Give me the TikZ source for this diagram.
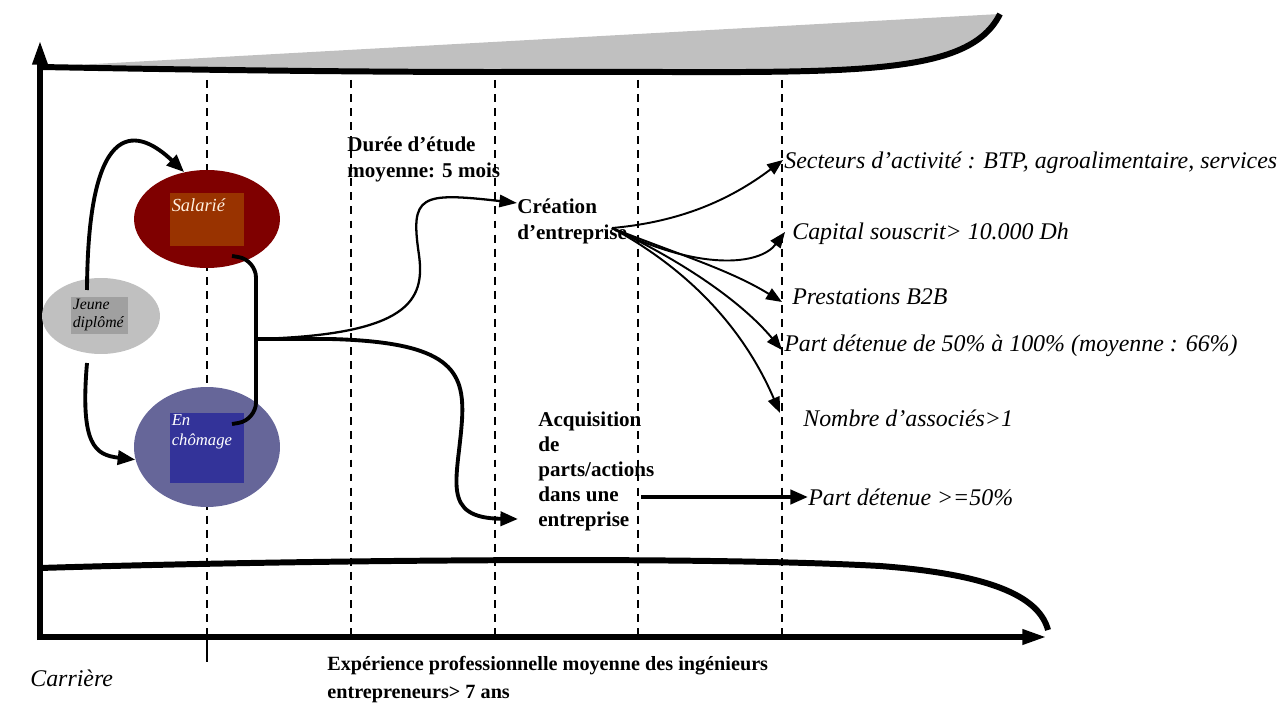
\documentclass[tikz,border=0pt]{standalone}
\usepackage{fontspec}
\setmainfont{Liberation Serif}
\usetikzlibrary{arrows.meta,shapes.geometric,calc}

\definecolor{salred}{HTML}{7F0000}
\definecolor{salbox}{HTML}{993300}
\definecolor{chomblue}{HTML}{666699}
\definecolor{chombox}{HTML}{333399}
\definecolor{jeunegray}{HTML}{C0C0C0}
\definecolor{jeunebox}{HTML}{A0A0A0}

\tikzset{
  axisline/.style={line width=3.4pt, -{Triangle[length=14pt,width=8pt]}},
  guide/.style={line width=0.8pt, dash pattern=on 4.5pt off 3.5pt},
  bigarrow/.style={line width=2.2pt, -{Triangle[length=10pt,width=8pt]}},
  thinarrow/.style={line width=1.1pt, -{Triangle[length=9pt,width=7pt]}},
  blob/.style={ellipse, inner sep=0pt},
  boxtext/.style={anchor=north west, inner sep=1pt, align=left, font=\fontsize{9.5}{11}\selectfont\itshape},
  boldlabel/.style={anchor=north west, inner sep=0pt, align=left, font=\fontsize{12}{14.6}\selectfont\bfseries},
  itlabel/.style={anchor=west, inner sep=0pt, font=\fontsize{13.6}{16}\selectfont\itshape}
}

\begin{document}
\begin{tikzpicture}[x=0.02cm, y=-0.02cm]
    \useasboundingbox (0,0) rectangle (1284,709);

    % Upper band
    \fill[jeunegray] (40,67) -- (1000,14) .. controls (965,85) and (820,70) .. (500,72)
        .. controls (300,72) and (100,68) .. (40,67) -- cycle;
    \draw[line width=3.4pt] (40,67) .. controls (100,68) and (300,72) .. (500,72)
        .. controls (820,70) and (965,85) .. (1000,14);

    % Lower band
    \draw[line width=3.4pt] (40,568) .. controls (300,560) and (700,556) .. (880,566)
        .. controls (1000,575) and (1040,600) .. (1048,630);

    % Dashed guides
    \foreach \gx in {207,351,495,638,782}
        \draw[guide] (\gx,80) -- (\gx,637);
    \draw[line width=0.8pt] (207,637) -- (207,662);

    % Axes
    \draw[axisline] (40,640) -- (40,40);
    \draw[axisline] (37,637) -- (1047,637);

    % Situations at graduation
    \node[blob, fill=jeunegray, minimum width=2.36cm, minimum height=1.52cm] (jeune) at (101,316) {};
    \node[fill=jeunebox, minimum width=1.14cm, minimum height=0.74cm, inner sep=0pt] (jeunerect) at (99.5,315.5) {};
    \node[boxtext, font=\fontsize{9}{10.5}\selectfont\itshape] at (jeunerect.north west) {Jeune\\diplômé};

    \node[blob, fill=salred, minimum width=2.92cm, minimum height=1.96cm] (salarie) at (207,219) {};
    \node[fill=salbox, minimum width=1.48cm, minimum height=1.06cm, inner sep=0pt] (salrect) at (207,219.5) {};
    \node[boxtext, font=\fontsize{10.5}{12}\selectfont\itshape, text=white!88!orange, yshift=-2pt] at (salrect.north west) {Salarié};

    \node[blob, fill=chomblue, minimum width=2.92cm, minimum height=2.4cm] (chomage) at (207,447) {};
    \node[fill=chombox, minimum width=1.48cm, minimum height=1.4cm, inner sep=0pt] (chomrect) at (207,448) {};
    \node[boxtext, text=white] at (chomrect.north west) {En\\chômage};

    % Paths from graduation
    \draw[bigarrow] (87,290) .. controls (88,110) and (140,130) .. (salarie.116);
    \draw[bigarrow] (87,363) .. controls (80,445) and (95,455) .. (chomage.190);

    % Joining bracket
    \coordinate (join) at (256,339);
    \draw[line width=2.2pt, rounded corners=10pt] (232,256) -- (256,260) -- (256,420) -- (232,424);
    \draw[line width=2.2pt] (256,339) -- (330,339);

    % Labels
    \node[boldlabel] (duree) at (347,137) {Durée d’étude\\moyenne: 5 mois};
    \node[boldlabel] (creation) at (517,199) {Création\\d’entreprise};
    \node[boldlabel, font=\fontsize{12}{14.2}\selectfont\bfseries] (acquisition) at (538,412) {Acquisition\\de\\parts/actions\\dans une\\entreprise};

    \draw[line width=1.3pt, -{Triangle[length=10pt,width=7pt]}] (join) .. controls (410,335) and (425,300) .. (419,255)
        .. controls (410,195) and (420,192) .. (creation.north west |- 0,203);
    \draw[bigarrow] (330,339) .. controls (450,342) and (465,370) .. (462,420)
        .. controls (458,480) and (440,518) .. (518,519);

    % Characteristics of created firms
    \node[itlabel] (secteurs) at (784,163) {Secteurs d’activité : BTP, agroalimentaire, services};
    \node[itlabel] (capital) at (792,234) {Capital souscrit> 10.000 Dh};
    \node[itlabel] (b2b) at (792,297) {Prestations B2B};
    \node[itlabel] (partcrea) at (784,346) {Part détenue de 50\% à 100\% (moyenne : 66\%)};
    \node[itlabel] (associes) at (803,418) {Nombre d’associés>1};
    \node[itlabel] (partacq) at (808,497) {Part détenue >=50\%};

    \coordinate (fan) at (612,228);
    \draw[thinarrow] (fan) .. controls (680,222) and (730,200) .. ($(secteurs.west)+(-1,-3)$);
    \draw[thinarrow] (fan) .. controls (700,272) and (760,265) .. ($(capital.west)+(-7,-2)$);
    \draw[thinarrow] (fan) .. controls (680,255) and (730,270) .. ($(b2b.west)+(-10,5)$);
    \draw[thinarrow] (fan) .. controls (680,260) and (740,300) .. ($(partcrea.west)+(-2,4)$);
    \draw[thinarrow] (fan) .. controls (680,265) and (740,320) .. ($(associes.west)+(-23,-5)$);

    \coordinate (acqout) at (641,497);
    \draw[bigarrow] (acqout) -- (partacq.west);

    % Axis captions
    \node[itlabel] (carriere) at (30,678) {Carrière};
    \node[boldlabel, font=\fontsize{11.5}{16}\selectfont\bfseries] (experience) at (327,656) {Expérience professionnelle moyenne des ingénieurs\\entrepreneurs> 7 ans};
\end{tikzpicture}
\end{document}
